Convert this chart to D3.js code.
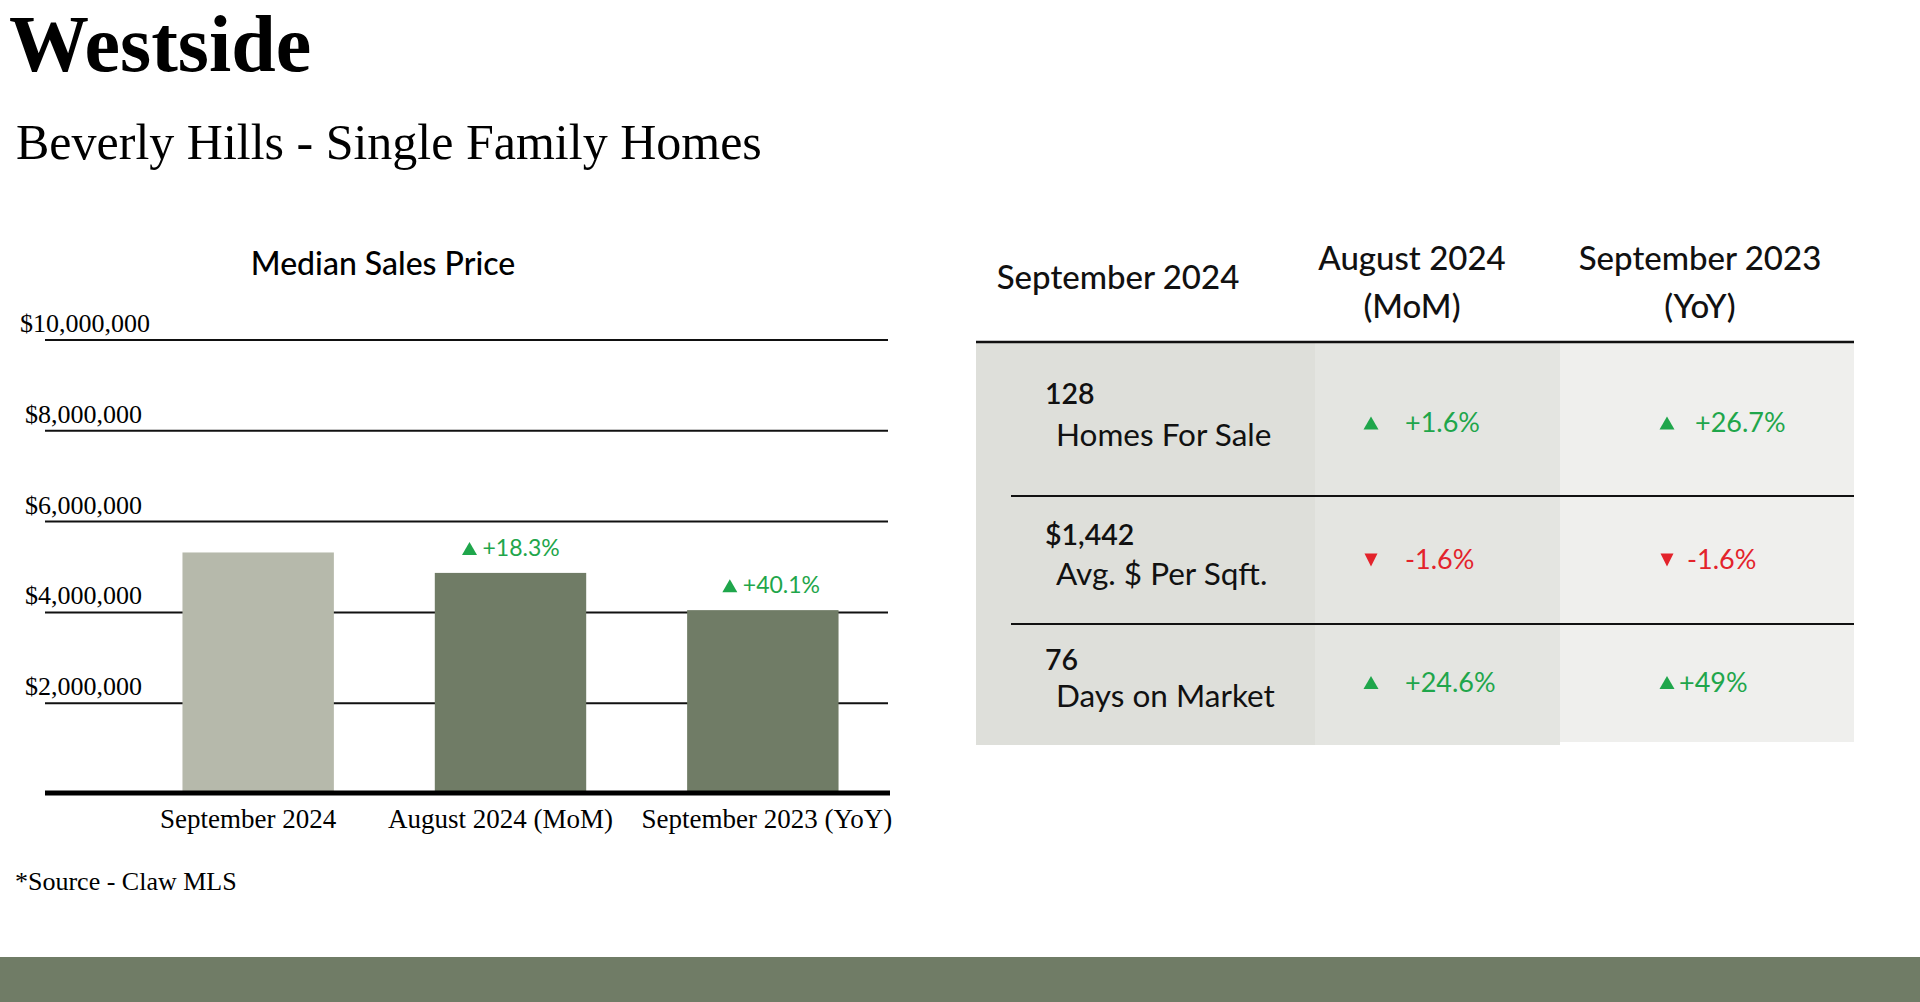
<!DOCTYPE html>
<meta charset="utf-8">
<title>Westside - Beverly Hills Single Family Homes</title>
<script src="https://d3js.org/d3.v7.min.js"></script>
<style>
  body { margin: 0; background: #fff; }
  svg { display: block; }
</style>
<body>
  <svg id="container" width="1920" height="1002"></svg>
</body>
<script>
    // bar chart data
    let periods = ["September 2024", "August 2024 (MoM)", "September 2023 (YoY)"]
    let medianPrices = [5320000, 4870000, 4050000]
    let priceChanges = [null, 18.3, 40.1]
    let priceTicks = [2000000, 4000000, 6000000, 8000000, 10000000]

    // table data
    let tableHeaders = [["September 2024"], ["August 2024", "(MoM)"], ["September 2023", "(YoY)"]]
    let metricNames = ["Homes For Sale", "Avg. $ Per Sqft.", "Days on Market"]
    let metricValues = ["128", "$1,442", "76"]
    let momChanges = [1.6, -1.6, 24.6]
    let yoyChanges = [26.7, -1.6, 49]

    let serif = "'Liberation Serif', 'Times New Roman', serif"
    let sans = "Lato, 'Open Sans', sans-serif"
    let green = "#1fa64b"
    let red = "#e3232b"
    let sage = "#707c66"

    let svg = d3.select("#container")

    let pct = v => (v > 0 ? "+" : "-") + Math.abs(v) + "%"

    // small up/down arrow, sitting on "bottom"
    function arrow(cx, bottom, w, h, up) {
        let p = d3.path()
        if (up) {
            p.moveTo(cx - w / 2, bottom); p.lineTo(cx + w / 2, bottom); p.lineTo(cx, bottom - h)
        } else {
            p.moveTo(cx - w / 2, bottom - h); p.lineTo(cx + w / 2, bottom - h); p.lineTo(cx, bottom)
        }
        p.closePath()
        return p.toString()
    }

    // titles
    svg.append("text").attr("x", 9).attr("y", 71)
        .style("font-family", serif).style("font-weight", "bold").style("font-size", "80px")
        .text("Westside")
    svg.append("text").attr("x", 16).attr("y", 159)
        .style("font-family", serif).style("font-size", "50px")
        .text("Beverly Hills - Single Family Homes")

    // ---- bar chart ----
    let x = d3.scaleBand().domain(periods).range([132, 889]).paddingInner(0.4).paddingOuter(0.2)
    let y = d3.scaleLinear().domain([0, 10000000]).range([794, 340])
    let fmt = d3.format("$,")
    let cx = p => x(p) + x.bandwidth() / 2

    let chart = svg.append("g")

    chart.append("text").attr("x", 383).attr("y", 275).attr("text-anchor", "middle")
        .style("font-family", sans).style("font-weight", 500).style("font-size", "32px")
        .text("Median Sales Price")

    chart.selectAll("line.grid").data(priceTicks).enter().append("line")
        .attr("class", "grid")
        .attr("x1", 45).attr("x2", 888)
        .attr("y1", d => y(d)).attr("y2", d => y(d))
        .attr("stroke", "#111").attr("stroke-width", 2)

    chart.selectAll("text.tick").data(priceTicks).enter().append("text")
        .attr("class", "tick")
        .attr("x", d => d === 10000000 ? 20 : 25)
        .attr("y", d => y(d) - 8)
        .style("font-family", serif).style("font-size", "26px")
        .text(d => fmt(d))

    chart.selectAll("rect").data(medianPrices).enter().append("rect")
        .attr("x", (d, i) => x(periods[i]))
        .attr("width", x.bandwidth())
        .attr("y", d => y(d))
        .attr("height", d => y(0) - y(d))
        .attr("fill", (d, i) => i === 0 ? "#b6b9ab" : sage)

    chart.append("line")
        .attr("x1", 45).attr("x2", 890)
        .attr("y1", y(0) - 1).attr("y2", y(0) - 1)
        .attr("stroke", "#000").attr("stroke-width", 5)

    let labelShift = [-10, -10, 4]
    chart.selectAll("text.period").data(periods).enter().append("text")
        .attr("class", "period")
        .attr("x", (d, i) => cx(d) + labelShift[i])
        .attr("y", 828)
        .attr("text-anchor", "middle")
        .style("font-family", serif).style("font-size", "27px")
        .text(d => d)

    let notes = periods.map((p, i) => ({ p: p, v: medianPrices[i], c: priceChanges[i], i: i }))
        .filter(d => d.c !== null)
    let noteShift = [0, 0, 8]

    chart.selectAll("path.note").data(notes).enter().append("path")
        .attr("class", "note")
        .attr("d", d => arrow(cx(d.p) - 41 + noteShift[d.i], y(d.v) - 18, 15, 13, d.c > 0))
        .attr("fill", d => d.c > 0 ? green : red)

    chart.selectAll("text.note").data(notes).enter().append("text")
        .attr("class", "note")
        .attr("x", d => cx(d.p) - 28 + noteShift[d.i])
        .attr("y", d => y(d.v) - 17)
        .attr("fill", d => d.c > 0 ? green : red)
        .style("font-family", sans).style("font-size", "23px")
        .text(d => pct(d.c))

    svg.append("text").attr("x", 15).attr("y", 890)
        .style("font-family", serif).style("font-size", "26px")
        .text("*Source - Claw MLS")

    // ---- table ----
    let colEdges = [976, 1315, 1560, 1854]
    let rowEdges = [342, 496, 624, 745]
    let headerX = [1118, 1412, 1700]
    let colFills = ["#dedfda", "#e4e5e1", "#efefed"]
    let labelOffset = [27, 25, 22]
    let changeOffset = [13, 9, 7]

    let table = svg.append("g")

    table.selectAll("rect").data(colFills).enter().append("rect")
        .attr("x", (d, i) => colEdges[i])
        .attr("width", (d, i) => colEdges[i + 1] - colEdges[i])
        .attr("y", rowEdges[0])
        .attr("height", (d, i) => rowEdges[3] - rowEdges[0] - (i === 2 ? 3 : 0))
        .attr("fill", d => d)

    tableHeaders.forEach((lines, i) => {
        let t = table.append("text").attr("text-anchor", "middle")
            .style("font-family", sans).style("font-weight", 500).style("font-size", "33px")
            .attr("fill", "#111")
        lines.forEach((line, j) => {
            t.append("tspan").attr("x", headerX[i])
                .attr("y", lines.length === 1 ? 289 : 270 + j * 48)
                .text(line)
        })
    })

    table.append("line")
        .attr("x1", colEdges[0]).attr("x2", colEdges[3])
        .attr("y1", rowEdges[0]).attr("y2", rowEdges[0])
        .attr("stroke", "#111").attr("stroke-width", 2.5)

    table.selectAll("line.sep").data(rowEdges.slice(1, 3)).enter().append("line")
        .attr("class", "sep")
        .attr("x1", 1011).attr("x2", colEdges[3])
        .attr("y1", d => d).attr("y2", d => d)
        .attr("stroke", "#111").attr("stroke-width", 2)

    let mid = i => (rowEdges[i] + rowEdges[i + 1]) / 2

    table.selectAll("text.value").data(metricValues).enter().append("text")
        .attr("class", "value")
        .attr("x", 1045).attr("y", (d, i) => mid(i) - 15)
        .attr("fill", "#111")
        .style("font-family", sans).style("font-weight", 600).style("font-size", "28.5px")
        .text(d => d)

    table.selectAll("text.metric").data(metricNames).enter().append("text")
        .attr("class", "metric")
        .attr("x", 1056).attr("y", (d, i) => mid(i) + labelOffset[i])
        .attr("fill", "#111")
        .style("font-family", sans).style("font-size", "31.5px")
        .text(d => d)

    let changeCols = [
        { vals: momChanges, arrowX: 1371, textX: [1405, 1405, 1405] },
        { vals: yoyChanges, arrowX: 1667, textX: [1695, 1687, 1679] }
    ]

    changeCols.forEach(col => {
        table.selectAll(null).data(col.vals).enter().append("path")
            .attr("d", (d, i) => arrow(col.arrowX, mid(i) + changeOffset[i] - 2.5, d > 0 ? 15 : 13, 13, d > 0))
            .attr("fill", d => d > 0 ? green : red)

        table.selectAll(null).data(col.vals).enter().append("text")
            .attr("x", (d, i) => col.textX[i]).attr("y", (d, i) => mid(i) + changeOffset[i])
            .attr("fill", d => d > 0 ? green : red)
            .style("font-family", sans).style("font-size", "27px")
            .text(d => pct(d))
    })

    // footer band
    svg.append("rect").attr("x", 0).attr("y", 957).attr("width", 1920).attr("height", 45)
        .attr("fill", sage)
</script>
</html>
